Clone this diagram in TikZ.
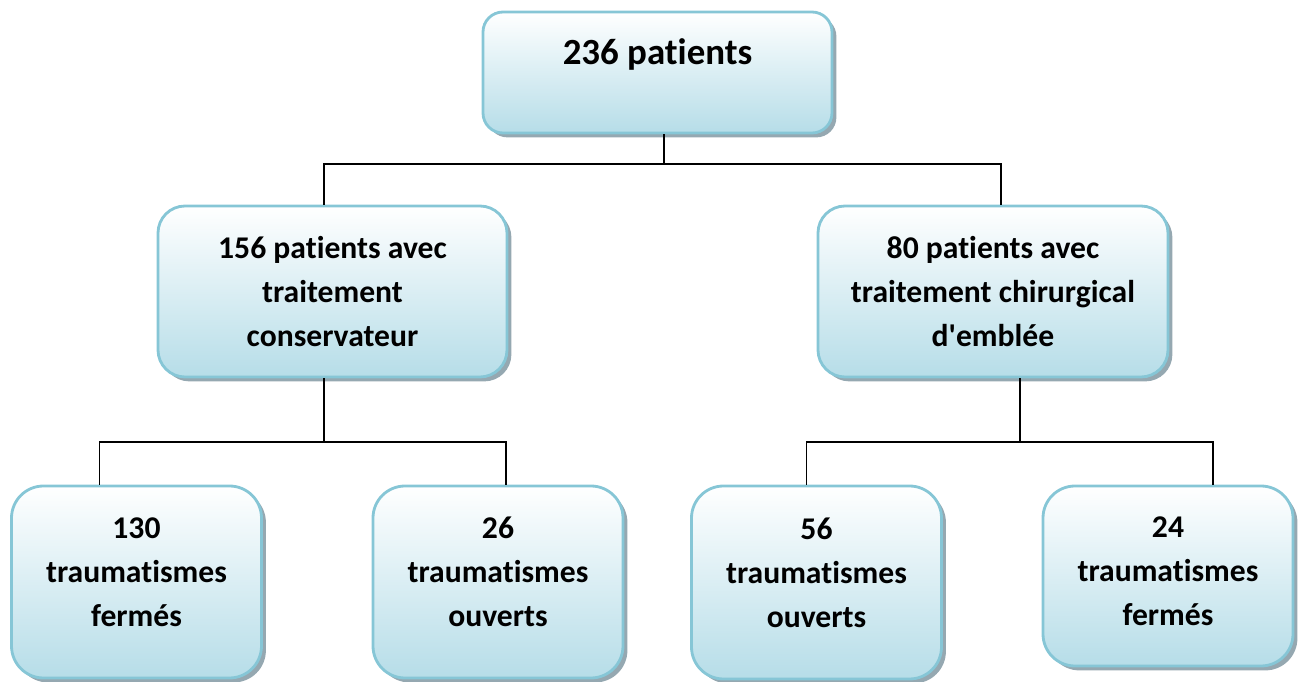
\documentclass[tikz,border=0pt]{standalone}
\usepackage{fontspec}
\setmainfont{Carlito}[Ligatures={TeXOff,NoCommon}]
\usetikzlibrary{shadows}

\definecolor{boxline}{RGB}{134,198,214}
\definecolor{boxfill}{RGB}{182,221,232}
\definecolor{boxshade}{RGB}{138,158,168}

\tikzset{
  card/.style={draw=boxline, line width=1.6pt, top color=white, bottom color=boxfill,
    align=center, font=\bfseries\fontsize{18}{25}\selectfont, inner sep=0pt,
    drop shadow={shadow xshift=2.5pt, shadow yshift=-2.5pt, fill=boxshade, opacity=0.9}},
  link/.style={line width=1pt, black}
}

\begin{document}
\begin{tikzpicture}[x=0.02cm, y=-0.02cm]
  \useasboundingbox (0,0) rectangle (1303,682);

  % Boxes
  \node[card, rounded corners=20*0.02cm, minimum width=349*0.02cm, minimum height=121*0.02cm,
    text depth=0.85cm, font=\bfseries\fontsize{21}{25}\selectfont] (total) at (657.5,72.5) {236 patients};
  \node[card, rounded corners=27*0.02cm, minimum width=349*0.02cm, minimum height=171*0.02cm]
    (cons) at (332.5,291.5) {156 patients avec\\traitement\\conservateur};
  \node[card, rounded corners=27*0.02cm, minimum width=350*0.02cm, minimum height=171*0.02cm]
    (chir) at (993,291.5) {80 patients avec\\traitement chirurgical\\d'emblée};
  \node[card, rounded corners=32*0.02cm, minimum width=250*0.02cm, minimum height=192*0.02cm,
    text depth=0.4cm] (fermA) at (136.5,582) {130\\traumatismes\\fermés};
  \node[card, rounded corners=32*0.02cm, minimum width=250*0.02cm, minimum height=192*0.02cm,
    text depth=0.4cm] (ouvA) at (498,582) {26\\traumatismes\\ouverts};
  \node[card, rounded corners=32*0.02cm, minimum width=250*0.02cm, minimum height=193*0.02cm,
    text depth=0.4cm] (ouvB) at (816.5,582.5) {56\\traumatismes\\ouverts};
  \node[card, rounded corners=32*0.02cm, minimum width=250*0.02cm, minimum height=180*0.02cm,
    text depth=0.2cm] (fermB) at (1168,576) {24\\traumatismes\\fermés};

  % Bus points
  \coordinate (top bus) at (664,164);
  \coordinate (left bus) at (324,442);
  \coordinate (right bus) at (1020,442);

  % Edges
  \draw[link] (total.south -| top bus) -- (top bus);
  \draw[link] (cons.north -| left bus) |- (top bus);
  \draw[link] ([xshift=8*0.02cm]chir.north) |- (top bus);
  \draw[link] (cons.south -| left bus) -- (left bus);
  \draw[link] ([xshift=-37*0.02cm]fermA.north) |- (left bus);
  \draw[link] ([xshift=8*0.02cm]ouvA.north) |- (left bus);
  \draw[link] (chir.south -| right bus) -- (right bus);
  \draw[link] ([xshift=-10*0.02cm]ouvB.north) |- (right bus);
  \draw[link] ([xshift=45*0.02cm]fermB.north) |- (right bus);
\end{tikzpicture}
\end{document}
